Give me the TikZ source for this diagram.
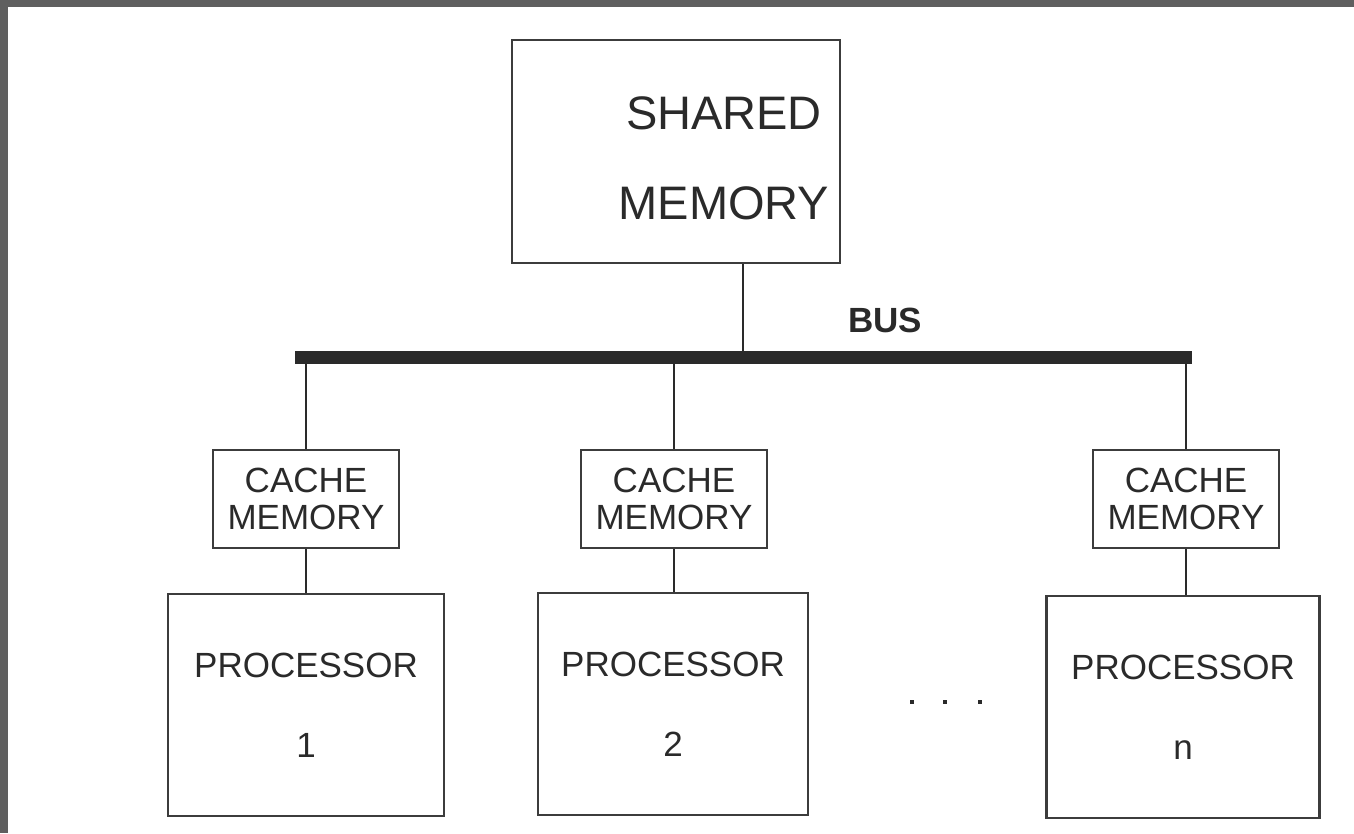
\documentclass[tikz,border=0pt]{standalone}
\usepackage{fontspec}
\setmainfont{Liberation Sans}
\usetikzlibrary{positioning}
\definecolor{frame}{HTML}{5F5F5F}
\definecolor{ink}{HTML}{2A2A2A}
\definecolor{boxline}{HTML}{3C3C3C}
\tikzset{
  unitbox/.style={draw=boxline, line width=2.5pt, inner sep=0pt, text=ink, align=center},
  link/.style={draw=ink, line width=2.5pt},
  busline/.style={draw=ink, line width=13pt},
  cachebox/.style={unitbox, minimum width=186pt, minimum height=98pt, font=\fontsize{35}{37}\selectfont},
  procbox/.style={unitbox, minimum width=276pt, minimum height=222pt, font=\fontsize{35}{80}\selectfont}
}
\begin{document}
\begin{tikzpicture}[x=1pt,y=-1pt]
% page and frame
\useasboundingbox (0,0) rectangle (1354,833);
\fill[white] (0,0) rectangle (1354,833);
\fill[frame] (0,0) rectangle (1354,7);
\fill[frame] (0,0) rectangle (8,833);
% memory and bus
\node[unitbox, minimum width=328pt, minimum height=223pt] (shmem) at (676,151.5) {};
\node[text=ink, align=center, inner sep=0pt, font=\fontsize{47}{90}\selectfont] (shmemtxt) at (724,158) {SHARED\\MEMORY};
\coordinate (busL) at (295,357);
\coordinate (busR) at (1192,357);
\draw[busline] (busL) -- (busR);
\node[font=\fontsize{35}{40}\selectfont\bfseries, text=ink] (buslbl) at (885,320) {BUS};
\coordinate (tap) at (743,357);
\draw[link] (shmem.south -| tap) -- (tap);
% caches
\node[cachebox] (cache1) at (306,499) {CACHE\\MEMORY};
\node[cachebox] (cache2) at (674,499) {CACHE\\MEMORY};
\node[cachebox] (cachen) at (1186,499) {CACHE\\MEMORY};
% processors
\node[procbox] (proc1) at (306,705) {PROCESSOR\\1};
\node[procbox, minimum width=270pt] (proc2) at (673,704) {PROCESSOR\\2};
\node[procbox, minimum width=273pt] (procn) at (1183,707) {PROCESSOR\\n};
% connectors
\foreach \u in {1,2,n} {
  \draw[link] (busL -| cache\u.north) -- (cache\u.north);
  \draw[link] (cache\u.south) -- (cache\u.south |- proc\u.north);
}
% dots
\foreach \d [count=\i] in {912,945,980}
  \node[fill=ink, inner sep=0pt, minimum size=4pt] (dot\i) at (\d,702) {};
\end{tikzpicture}
\end{document}
